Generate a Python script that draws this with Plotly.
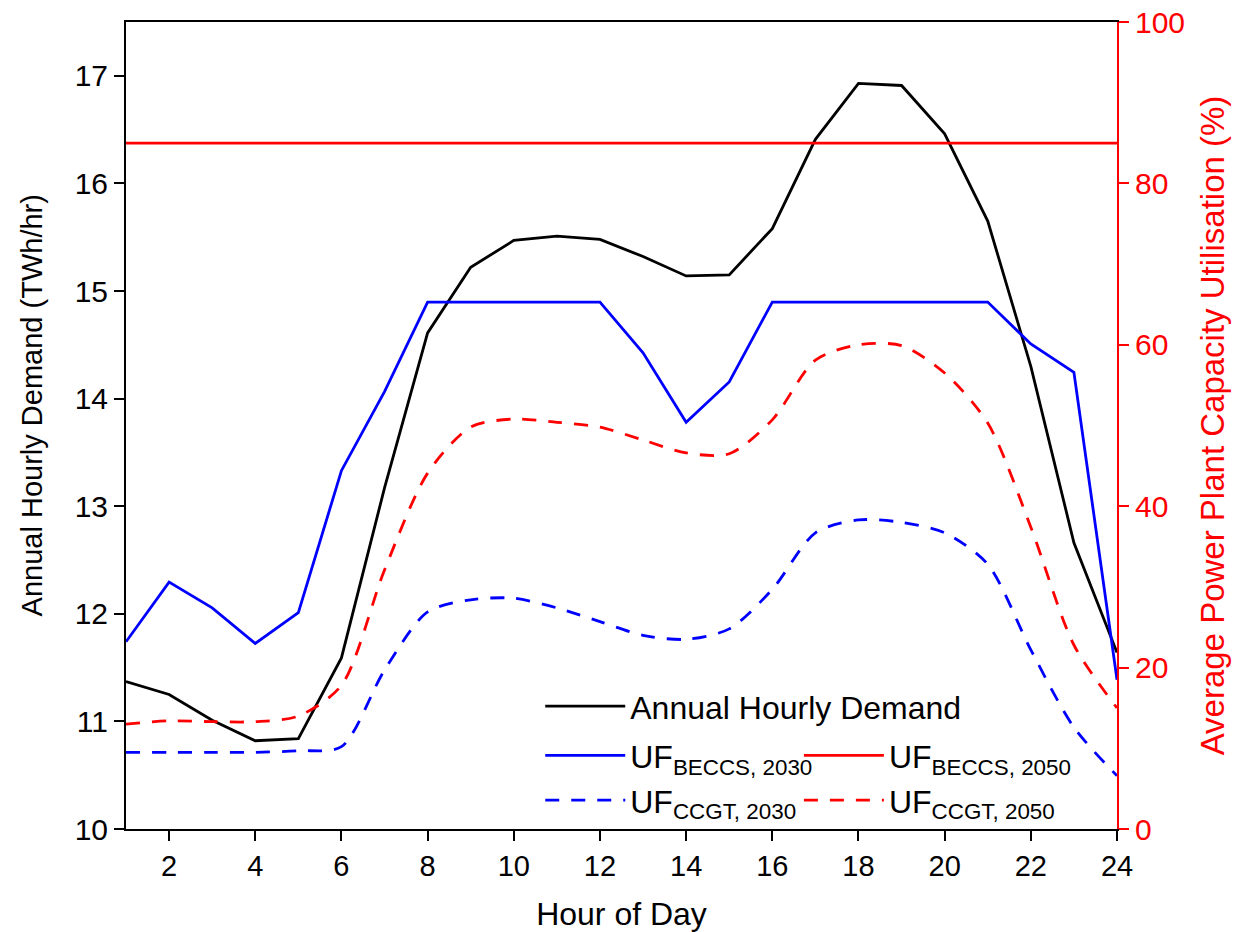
import plotly.graph_objects as go

# Hour of day
hours = list(range(1, 25))

# Annual hourly demand (TWh/hr), left axis
demand = [11.37, 11.25, 11.01, 10.82, 10.84, 11.59, 13.17, 14.61, 15.22, 15.47,
          15.51, 15.48, 15.32, 15.14, 15.15, 15.58, 16.41, 16.93, 16.91, 16.46,
          15.65, 14.30, 12.66, 11.64]

# Utilisation factors (%), right axis
uf_beccs_2030 = [23.2, 30.6, 27.4, 23.0, 26.8, 44.4, 54.2, 65.3, 65.3, 65.3,
                 65.3, 65.3, 59.0, 50.4, 55.4, 65.3, 65.3, 65.3, 65.3, 65.3,
                 65.3, 60.1, 56.6, 18.5]
uf_beccs_2050 = [85.0] * 24
uf_ccgt_2030 = [9.5, 9.5, 9.5, 9.5, 9.7, 10.2, 19.7, 26.9, 28.4, 28.6,
                27.4, 25.7, 24.0, 23.5, 24.8, 29.7, 36.7, 38.3, 38.0, 36.7,
                32.8, 22.2, 12.6, 6.6]
uf_ccgt_2050 = [13.0, 13.4, 13.3, 13.3, 14.0, 17.8, 32.1, 44.1, 49.8, 50.8,
                50.4, 49.8, 48.2, 46.6, 46.5, 50.7, 58.1, 60.0, 59.9, 56.5,
                50.3, 37.4, 22.8, 15.0]

x_ticks = list(range(2, 25, 2))
left_ticks = list(range(10, 18))
right_ticks = list(range(0, 101, 20))

FONT = "Liberation Sans, Arial, sans-serif"
DASH = "14px,12px"
LW = 2.8

fig = go.Figure()

fig.add_trace(go.Scatter(
    x=hours, y=demand, mode="lines", name="Annual Hourly Demand",
    line=dict(color="black", width=LW), yaxis="y", legend="legend", showlegend=True))

fig.add_trace(go.Scatter(
    x=hours, y=uf_beccs_2030, mode="lines", name="UF<sub>BECCS, 2030</sub>",
    line=dict(color="#0000ff", width=LW), yaxis="y2", legend="legend2", showlegend=True))
fig.add_trace(go.Scatter(
    x=hours, y=uf_ccgt_2030, mode="lines", name="UF<sub>CCGT, 2030</sub>",
    line=dict(color="#0000ff", width=LW, dash=DASH, shape="spline", smoothing=0.8),
    yaxis="y2", legend="legend2", showlegend=True))

fig.add_trace(go.Scatter(
    x=hours, y=uf_beccs_2050, mode="lines", name="UF<sub>BECCS, 2050</sub>",
    line=dict(color="#ff0000", width=LW), yaxis="y2", legend="legend3", showlegend=True))
fig.add_trace(go.Scatter(
    x=hours, y=uf_ccgt_2050, mode="lines", name="UF<sub>CCGT, 2050</sub>",
    line=dict(color="#ff0000", width=LW, dash=DASH, shape="spline", smoothing=0.8),
    yaxis="y2", legend="legend3", showlegend=True))

legend_common = dict(
    bgcolor="rgba(0,0,0,0)", borderwidth=0, font=dict(family=FONT, size=32, color="black"),
    xanchor="left", yanchor="top", itemwidth=80, tracegroupgap=0,
    itemclick=False, itemdoubleclick=False, visible=True)

fig.update_layout(
    width=1243, height=932,
    margin=dict(l=126, r=126, t=22, b=103),
    paper_bgcolor="white", plot_bgcolor="white",
    font=dict(family=FONT, color="black"),
    showlegend=True,
    xaxis=dict(
        range=[1, 24], tickvals=x_ticks, ticks="outside", ticklen=10, tickwidth=2,
        tickcolor="black", showline=True, linecolor="black", linewidth=2,
        mirror=True, showgrid=False, zeroline=False, automargin=False,
        tickfont=dict(family=FONT, size=29, color="black"),
        title=dict(text="Hour of Day", font=dict(family=FONT, size=32, color="black"),
                   standoff=22)),
    yaxis=dict(
        range=[10, 17.5], tickvals=left_ticks, ticks="outside", ticklen=10, tickwidth=2,
        tickcolor="black", showline=True, linecolor="black", linewidth=2,
        showgrid=False, zeroline=False, automargin=False,
        tickfont=dict(family=FONT, size=30, color="black")),
    yaxis2=dict(
        range=[0, 100], tickvals=right_ticks, overlaying="y", side="right",
        ticks="outside", ticklen=10, tickwidth=2, tickcolor="#ff0000",
        showline=True, linecolor="#ff0000", linewidth=2,
        showgrid=False, zeroline=False, automargin=False,
        tickfont=dict(family=FONT, size=30, color="#ff0000"),
        title=dict(text="Average Power Plant Capacity Utilisation (%)",
                   font=dict(family=FONT, size=33, color="#ff0000"), standoff=17)),
    legend=dict(x=0.418, y=0.186, **legend_common),
    legend2=dict(x=0.418, y=0.125, **legend_common),
    legend3=dict(x=0.679, y=0.125, **legend_common),
    annotations=[dict(
        text="Annual Hourly Demand (TWh/hr)", textangle=-90,
        xref="paper", yref="paper", x=-0.0948, y=0.525,
        xanchor="center", yanchor="middle", showarrow=False,
        font=dict(family=FONT, size=29, color="black"))],
)

fig.write_html("out.html")
